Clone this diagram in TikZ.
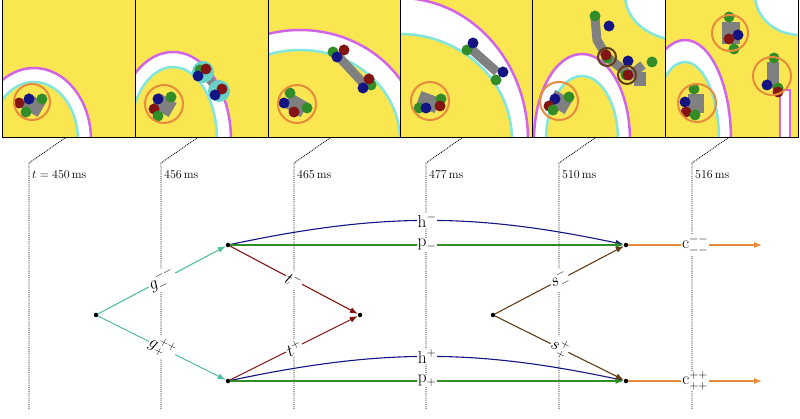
\documentclass[tikz,border=0pt]{standalone}
\usetikzlibrary{arrows.meta}
\definecolor{yel}{RGB}{250,230,80}
\definecolor{mag}{RGB}{210,100,230}
\definecolor{cy}{RGB}{130,230,220}
\definecolor{nv}{RGB}{20,20,130}
\definecolor{dr}{RGB}{130,20,20}
\definecolor{gr}{RGB}{50,140,40}
\definecolor{tl}{RGB}{80,190,160}
\definecolor{br}{RGB}{100,60,20}
\definecolor{orng}{RGB}{230,140,60}
\definecolor{gy}{RGB}{128,128,128}
\begin{document}
\begin{tikzpicture}[x=1pt,y=-1pt,
  dot/.style={circle,fill=black,inner sep=0pt,minimum size=4.5pt},
  lab/.style={fill=white,inner sep=1pt,text=black,font=\fontsize{17}{19}\selectfont},
  arr/.style={line width=1.1pt,-{Latex[length=8pt,width=6pt]}},
  tick/.style={densely dotted,line width=0.9pt},
  tlab/.style={anchor=west,font=\fontsize{13}{15}\selectfont,inner sep=1pt},
  oc/.style={draw=orng,line width=2pt}]
\useasboundingbox (0,0) rectangle (800,419);
\newcommand{\rpanel}[7]{%
 \begin{scope}
  \clip (#1,0) rectangle ++(133,138);
  \fill[yel] (#1,0) rectangle ++(133,138);
  \fill[white,draw=mag,line width=2.5pt] (#1+#2,#3) ellipse [x radius=#4,y radius=#5];
  \fill[yel,draw=cy,line width=2.5pt] (#1+#2,#3) ellipse [x radius=#6,y radius=#7];
 \end{scope}}
\newcommand{\bdot}[3]{\fill[#1] (#2,#3) circle (5.5);}
\rpanel{2}{32}{140}{57}{72}{44}{58}
\rpanel{135}{38}{140}{58}{88}{44}{73}
\rpanel{268}{32}{140}{120}{110}{100}{90}
\rpanel{400}{0}{140}{128}{142}{112}{106}
\rpanel{532}{50}{140}{48}{86}{36}{64}
\begin{scope}
 \clip (532,0) rectangle ++(133,138);
 \fill[white,draw=cy,line width=2.5pt] (680,-5) ellipse [x radius=55,y radius=45];
\end{scope}
\rpanel{665}{20}{140}{46}{100}{34}{78}
\begin{scope}
 \clip (665,0) rectangle ++(133,138);
 \fill[white,draw=cy,line width=2.5pt] (800,-5) ellipse [x radius=45,y radius=40];
 \fill[white,draw=mag,line width=2pt] (780,90) rectangle (790,140);
\end{scope}
\foreach \x in {2,135,268,400,532,665,798}{\draw[line width=1pt] (\x,0) -- (\x,138);}
\draw[line width=1pt] (2,138) -- (798,138);
% blobs
\fill[gy,rotate around={-30:(33,105)}] (23,97) rectangle (43,113);
\bdot{nv}{29}{99}\bdot{gr}{42}{99}\bdot{dr}{19}{103}\bdot{gr}{26}{112}
\draw[oc] (32,102) circle (18);
\fill[gy,rotate around={-30:(164,105)}] (154,97) rectangle (174,113);
\bdot{nv}{158}{99}\bdot{gr}{171}{97}\bdot{dr}{154}{109}\bdot{gr}{158}{116}
\draw[oc] (164,104) circle (19);
\draw[gy,line width=8pt] (203,72) -- (219,91);
\fill[cy!80!teal] (203,72) circle (11) (219,91) circle (11);
\bdot{gr}{200}{70}\bdot{dr}{206}{69}\bdot{nv}{198}{76}\bdot{dr}{222}{89}\bdot{nv}{215}{95}
\fill[gy,rotate around={-30:(296,105)}] (286,97) rectangle (306,113);
\bdot{gr}{290}{93}\bdot{nv}{284}{103}\bdot{dr}{294}{112}\bdot{gr}{307}{108}
\draw[oc] (297,104) circle (19);
\draw[gy,line width=9pt] (337,55) -- (365,85);
\bdot{gr}{333}{52}\bdot{dr}{344}{50}\bdot{nv}{337}{57}\bdot{gr}{371}{85}\bdot{dr}{369}{79}\bdot{nv}{363}{88}
\fill[gy,rotate around={-20:(428,102)}] (418,94) rectangle (438,110);
\bdot{gr}{441}{99}\bdot{dr}{440}{106}\bdot{gr}{419}{108}\bdot{nv}{426}{108}
\draw[oc] (430,101) circle (19);
\draw[gy,line width=9pt] (470,48) -- (497,72);
\bdot{gr}{467}{50}\bdot{nv}{473}{43}\bdot{gr}{496}{80}\bdot{nv}{503}{72}
\fill[gy,rotate around={-30:(560,102)}] (550,94) rectangle (570,110);
\bdot{gr}{569}{97}\bdot{nv}{555}{99}\bdot{dr}{549}{106}\bdot{gr}{553}{110}
\draw[oc] (559,101) circle (19);
\draw[gy,line width=9pt] (595,18) -- (597,40) -- (607,57) -- (630,75) -- (643,65);
\fill[gy] (634,72) rectangle (646,86);
\bdot{gr}{595}{16}\bdot{nv}{609}{26}\bdot{nv}{628}{61}\bdot{gr}{652}{62}
\draw[br,line width=2pt] (607,57) circle (9) (627,75) circle (9);
\bdot{gr}{607}{58}\bdot{dr}{606}{55}\bdot{gr}{626}{75}\bdot{dr}{628}{75}
\fill[gy] (688,94) rectangle (704,113);
\bdot{gr}{694}{89}\bdot{nv}{685}{102}\bdot{dr}{686}{112}\bdot{gr}{695}{115}
\draw[oc] (697,103) circle (19);
\fill[gy] (722,22) rectangle (740,44);
\bdot{gr}{729}{17}\bdot{nv}{738}{35}\bdot{dr}{729}{39}\bdot{gr}{734}{49}
\draw[oc] (730,33) circle (18);
\fill[gy] (767,62) rectangle (779,88);
\bdot{gr}{774}{58}\bdot{gr}{778}{88}\bdot{nv}{767}{85}\bdot{dr}{778}{92}
\draw[oc] (772,76) circle (19);
% time ticks
\foreach \x/\t in {29/{$t=450\,\mathrm{ms}$},161/{$456\,\mathrm{ms}$},294/{$465\,\mathrm{ms}$},426/{$477\,\mathrm{ms}$},559/{$510\,\mathrm{ms}$},692/{$516\,\mathrm{ms}$}}{
  \draw[tick] (\x+36,138) -- (\x,163) -- (\x,410);
  \node[tlab] at (\x+2,175) {\t};
}
% graph
\node[dot] (o1) at (96,315) {};
\node[dot] (u1) at (228,245) {};
\node[dot] (l1) at (228,381) {};
\node[dot] (m1) at (360,315) {};
\node[dot] (o2) at (493,315) {};
\node[dot] (u2) at (626,245) {};
\node[dot] (l2) at (626,381) {};
\coordinate (ue) at (762,245);
\coordinate (le) at (762,381);
\draw[arr,tl] (o1) -- node[lab,sloped]{$g^{--}_{-}$} (u1);
\draw[arr,tl] (o1) -- node[lab,sloped]{$g^{++}_{+}$} (l1);
\draw[arr,dr] (u1) -- node[lab,sloped]{$t^{-}$} (m1);
\draw[arr,dr] (l1) -- node[lab,sloped]{$t^{+}$} (m1);
\draw[arr,nv] (u1) to[out=12,in=168] node[lab,pos=0.5]{$\mathrm{h}^{-}$} (u2);
\draw[arr,nv] (l1) to[out=12,in=168] node[lab,pos=0.5]{$\mathrm{h}^{+}$} (l2);
\draw[arr,gr] (u1) -- node[lab,pos=0.5]{$\mathrm{p}_{-}$} (u2);
\draw[arr,gr] (l1) -- node[lab,pos=0.5]{$\mathrm{p}_{+}$} (l2);
\draw[arr,br] (o2) -- node[lab,sloped]{$s^{-}_{-}$} (u2);
\draw[arr,br] (o2) -- node[lab,sloped]{$s^{+}_{+}$} (l2);
\draw[arr,orng] (u2) -- node[lab]{$\mathrm{c}^{--}_{--}$} (ue);
\draw[arr,orng] (l2) -- node[lab]{$\mathrm{c}^{++}_{++}$} (le);
\end{tikzpicture}
\end{document}
